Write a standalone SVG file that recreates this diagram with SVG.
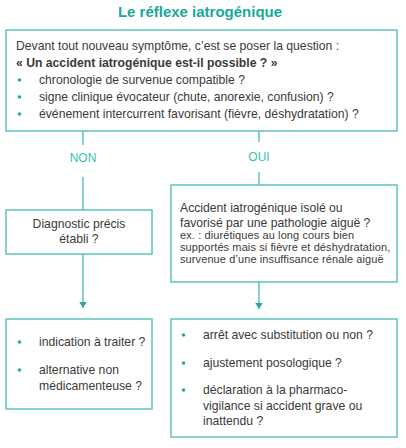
<svg xmlns="http://www.w3.org/2000/svg" width="406" height="448" viewBox="0 0 406 448">
<defs>
<style>
.box{fill:#fff;stroke:#5cc4bb;stroke-width:1.5}
.t{font-family:"Liberation Sans",Arial,sans-serif;font-size:12.2px;fill:#3a3a3a}
.s{font-family:"Liberation Sans",Arial,sans-serif;font-size:11px;letter-spacing:0.1px;fill:#3a3a3a}
.b{font-weight:bold}
.lab{font-family:"Liberation Sans",Arial,sans-serif;font-size:12px;fill:#3dbdb2}
.ln{stroke:#5cc4bb;stroke-width:1.5;fill:none}
.dot{fill:#2aa89c}
</style>
<marker id="ah" viewBox="0 0 8 10" refX="8" refY="5" markerWidth="6" markerHeight="7.5" markerUnits="userSpaceOnUse" orient="auto">
<path d="M0,0 L8,5 L0,10 Z" fill="#2aa89c"/>
</marker>
</defs>
<rect width="406" height="448" fill="#fff"/>
<text x="200" y="17" text-anchor="middle" font-family="'Liberation Sans',Arial,sans-serif" font-size="15px" font-weight="bold" fill="#1aa89a">Le réflexe iatrogénique</text>

<g id="connectors">
<line class="ln" x1="83" y1="131" x2="83" y2="145"/>
<text class="lab" x="83" y="162" text-anchor="middle">NON</text>
<line class="ln" x1="83" y1="177" x2="83" y2="210"/>
<line class="ln" x1="259" y1="131" x2="259" y2="142"/>
<text class="lab" x="259" y="161" text-anchor="middle">OUI</text>
<line class="ln" x1="259" y1="172" x2="259" y2="185"/>
<line class="ln" x1="83" y1="254" x2="83" y2="308" marker-end="url(#ah)"/>
<line class="ln" x1="259" y1="282" x2="259" y2="309" marker-end="url(#ah)"/>
</g>

<g id="top">
<rect class="box" x="6" y="30" width="391" height="101"/>
<text class="t" x="16" y="50">Devant tout nouveau symptôme, c’est se poser la question :</text>
<text class="t b" x="16" y="67">« Un accident iatrogénique est-il possible ? »</text>
<circle class="dot" cx="19.5" cy="80" r="1.8"/>
<text class="t" x="39" y="84">chronologie de survenue compatible ?</text>
<circle class="dot" cx="19.5" cy="97" r="1.8"/>
<text class="t" x="39" y="101">signe clinique évocateur (chute, anorexie, confusion) ?</text>
<circle class="dot" cx="19.5" cy="114" r="1.8"/>
<text class="t" x="39" y="118">événement intercurrent favorisant (fièvre, déshydratation) ?</text>
</g>

<g id="non">
<rect class="box" x="6" y="210" width="146" height="44"/>
<text class="t" x="79" y="228" text-anchor="middle">Diagnostic précis</text>
<text class="t" x="79" y="243" text-anchor="middle">établi ?</text>
</g>

<g id="oui">
<rect class="box" x="171" y="185" width="226" height="97"/>
<text class="t" x="180" y="212">Accident iatrogénique isolé ou</text>
<text class="t" x="180" y="227">favorisé par une pathologie aiguë ?</text>
<text class="s" x="180" y="239">ex. : diurétiques au long cours bien</text>
<text class="s" x="180" y="251">supportés mais si fièvre et déshydratation,</text>
<text class="s" x="180" y="263">survenue d’une insuffisance rénale aiguë</text>
</g>

<g id="non-actions">
<rect class="box" x="6" y="319" width="146" height="90"/>
<circle class="dot" cx="19.5" cy="342" r="1.8"/>
<text class="t" x="39" y="346">indication à traiter ?</text>
<circle class="dot" cx="19.5" cy="370" r="1.8"/>
<text class="t" x="39" y="374">alternative non</text>
<text class="t" x="39" y="390">médicamenteuse ?</text>
</g>

<g id="oui-actions">
<rect class="box" x="171" y="319" width="226" height="118"/>
<circle class="dot" cx="183.5" cy="335" r="1.8"/>
<text class="t" x="203" y="339">arrêt avec substitution ou non ?</text>
<circle class="dot" cx="183.5" cy="363" r="1.8"/>
<text class="t" x="203" y="367">ajustement posologique ?</text>
<circle class="dot" cx="183.5" cy="390" r="1.8"/>
<text class="t" x="203" y="394">déclaration à la pharmaco-</text>
<text class="t" x="203" y="410">vigilance si accident grave ou</text>
<text class="t" x="203" y="425">inattendu ?</text>
</g>
</svg>
